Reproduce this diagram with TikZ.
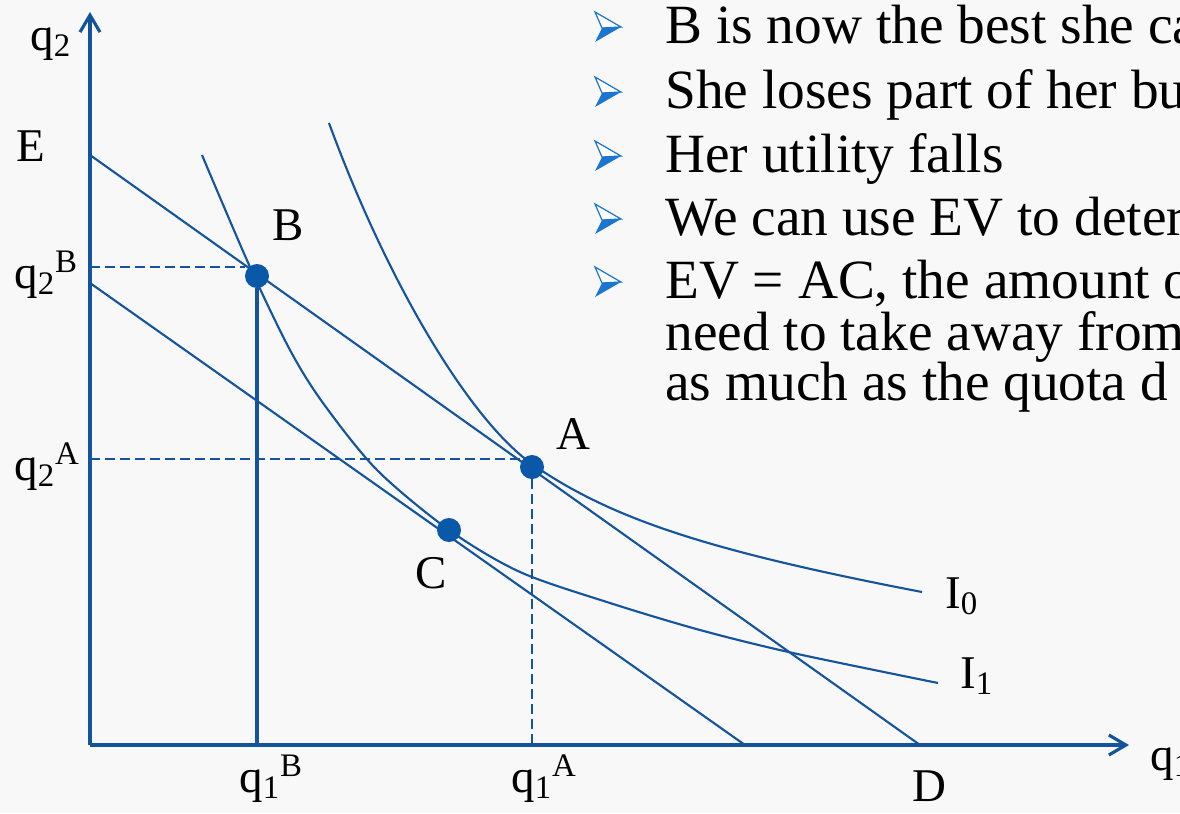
\documentclass[tikz,border=0pt]{standalone}
\usepackage{fontspec}
\setmainfont{Liberation Serif}
\usetikzlibrary{arrows.meta}
\definecolor{lineblue}{RGB}{20,84,156}
\definecolor{dotblue}{RGB}{10,88,168}
\definecolor{bulletblue}{RGB}{28,118,208}
\definecolor{paper}{RGB}{248,248,248}
\tikzset{
  axis/.style={line width=1.8pt,draw=lineblue,-{Straight Barb[length=3.4mm,width=4mm]}},
  budget/.style={line width=1.2pt,draw=lineblue},
  indiff/.style={line width=1.2pt,draw=lineblue},
  guide/.style={line width=1.4pt,draw=lineblue,dash pattern=on 2mm off 1mm},
  drop/.style={line width=1.9pt,draw=lineblue},
  bundle/.style={circle,fill=dotblue,inner sep=0pt,minimum size=4.8mm},
  lbl/.style={inner sep=0pt,anchor=base west,font=\fontsize{26.7}{32}\selectfont},
  bullettext/.style={inner sep=0pt,anchor=base west,font=\fontsize{31.5}{38}\selectfont},
  tipedge/.style={draw=bulletblue,fill=white,line width=0.7pt,line join=miter},
  tipfill/.style={fill=bulletblue}
}

\begin{document}
\begin{tikzpicture}[x=0.2mm,y=-0.2mm]
  % Frame and background
  \clip (0,0) rectangle (1180,813);
  \fill[paper] (0,0) rectangle (1180,813);

  % Coordinates
  \coordinate (O) at (90,745);
  \coordinate (ytip) at (90,12);
  \coordinate (xtip) at (1129,745);
  \coordinate (E) at (90,155);
  \coordinate (Dpt) at (920,745);
  \coordinate (F) at (90,283);
  \coordinate (G) at (745,745);
  \coordinate (q2B) at (90,267);
  \coordinate (q2A) at (90,459);

  % Axes
  \draw[axis] (O)--(ytip);
  \draw[axis] (O)--(xtip);

  % Budget lines
  \draw[budget] (E)--(Dpt);
  \draw[budget] (F)--(G);

  % Indifference curves I0 and I1
  \draw[indiff] (329,123) .. controls (388,284) and (470,420) .. (532,464)
    .. controls (611,519) and (709,551) .. (922,592);
  \draw[indiff] plot[smooth] coordinates {(202,155) (250,267) (290,350) (323,403) (377,470) (449,530) (520,572) (610,603) (700,630) (793,653) (938,683)};

  % Bundles
  \node[bundle] (B) at (257,276) {};
  \node[bundle] (A) at (532,467) {};
  \node[bundle] (C) at (449,530) {};

  % Guides to the axes
  \draw[guide] (q2B)--(q2B -| B.west);
  \draw[guide] (q2A)--(q2A -| A);
  \draw[guide] (A.south)--(A |- O);
  \draw[drop] (B.south)--(B |- O);

  % Axis and point labels
  \node[lbl] (lblq2) at (30,50) {q\textsubscript{2}};
  \node[lbl] (lblE) at (16,161) {E};
  \node[lbl] (lblq2B) at (14,288) {q\textsubscript{2}\textsuperscript{B}};
  \node[lbl] (lblq2A) at (14,480) {q\textsubscript{2}\textsuperscript{A}};
  \node[lbl] (lblB) at (272,240) {B};
  \node[lbl] (lblA) at (556,449) {A};
  \node[lbl] (lblC) at (415,588) {C};
  \node[lbl] (lblI0) at (945,608) {I\textsubscript{0}};
  \node[lbl] (lblI1) at (960,688) {I\textsubscript{1}};
  \node[lbl] (lblD) at (912,801) {D};
  \node[lbl] (lblq1B) at (239,792) {q\textsubscript{1}\textsuperscript{B}};
  \node[lbl] (lblq1A) at (511,792) {q\textsubscript{1}\textsuperscript{A}};
  \node[lbl] (lblq1) at (1150,770) {q\textsubscript{1}};

  % Bullet marks
  \filldraw[tipedge] (595,12)--(621,27)--(602,28)--cycle;
  \fill[tipfill] (602,28)--(621,27)--(595,42)--cycle;
  \filldraw[tipedge] (595,77)--(621,92)--(602,93)--cycle;
  \fill[tipfill] (602,93)--(621,92)--(595,107)--cycle;
  \filldraw[tipedge] (595,141)--(621,156)--(602,157)--cycle;
  \fill[tipfill] (602,157)--(621,156)--(595,171)--cycle;
  \filldraw[tipedge] (595,204)--(621,219)--(602,220)--cycle;
  \fill[tipfill] (602,220)--(621,219)--(595,234)--cycle;
  \filldraw[tipedge] (595,267)--(621,282)--(602,283)--cycle;
  \fill[tipfill] (602,283)--(621,282)--(595,297)--cycle;

  % Bullet text
  \node[bullettext] (line1) at (665,43) {B is now the best she ca};
  \node[bullettext] (line2) at (665,108) {She loses part of her bu};
  \node[bullettext] (line3) at (665,172) {Her utility falls};
  \node[bullettext] (line4) at (665,235) {We can use EV to deter};
  \node[bullettext] (line5) at (665,298) {EV = AC, the amount o};
  \node[bullettext] (line6) at (665,350) {need to take away from};
  \node[bullettext] (line7) at (665,400) {as much as the quota d};
\end{tikzpicture}
\end{document}
